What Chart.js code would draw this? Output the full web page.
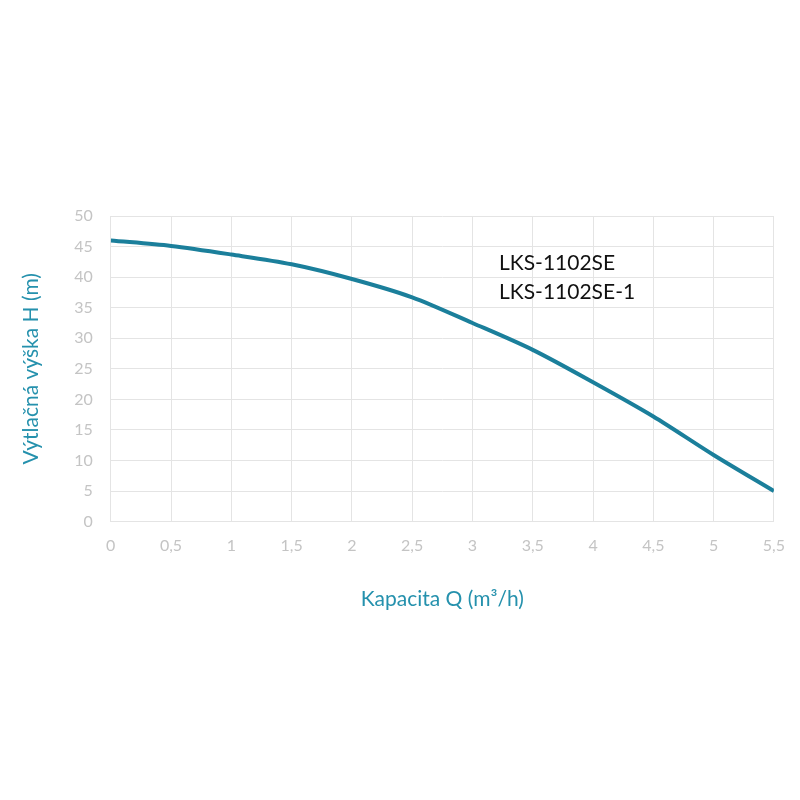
<!DOCTYPE html>
<html>
<head>
<meta charset="utf-8">
<script src="https://cdn.jsdelivr.net/npm/chart.js@4"></script>
<style>
  html, body { margin: 0; padding: 0; background: #fff; }
  #wrap { width: 800px; height: 800px; }
</style>
</head>
<body>
<div id="wrap"><canvas id="chart" width="800" height="800"></canvas></div>
<script>
// --- Data ---
const flowQ = [0, 0.5, 1, 1.5, 2, 2.5, 3, 3.5, 4, 4.5, 5, 5.5];
const headH = [46, 45.1, 43.7, 42.1, 39.7, 36.7, 32.5, 28.1, 22.8, 17.2, 10.9, 5];
const modelLabels = ['LKS-1102SE', 'LKS-1102SE-1'];
const labelAnchor = { x: 3.22, y: [42.2, 37.6] };

const TEAL = '#1b7f9b';
const TITLE_TEAL = '#2591ad';
const TICK_GREY = '#c4c4c4';
const GRID = '#e4e4e4';
const FONT = 'Lato, "Noto Sans", sans-serif';

// Model names written inside the plot
const modelText = {
  id: 'modelText',
  afterDatasetsDraw(chart) {
    const { ctx, scales } = chart;
    ctx.save();
    ctx.font = '21px ' + FONT;
    ctx.fillStyle = '#111';
    ctx.textAlign = 'left';
    ctx.textBaseline = 'middle';
    modelLabels.forEach((t, i) => {
      ctx.fillText(t, scales.x.getPixelForValue(labelAnchor.x), scales.y.getPixelForValue(labelAnchor.y[i]));
    });
    ctx.restore();
  }
};

new Chart(document.getElementById('chart').getContext('2d'), {
  type: 'line',
  data: {
    datasets: [{
      data: flowQ.map((q, i) => ({ x: q, y: headH[i] })),
      borderColor: TEAL,
      borderWidth: 4,
      pointRadius: 0,
      tension: 0.3,
      fill: false
    }]
  },
  options: {
    responsive: false,
    animation: false,
    layout: { padding: { top: 216, bottom: 184, left: 15, right: -4 } },
    plugins: { legend: { display: false }, tooltip: { enabled: false } },
    scales: {
      x: {
        type: 'linear',
        min: 0, max: 5.5,
        grid: { color: GRID, drawTicks: false },
        border: { color: GRID },
        ticks: {
          stepSize: 0.5,
          padding: 15,
          color: TICK_GREY,
          font: { family: FONT, size: 16 },
          callback: v => String(v).replace('.', ',')
        },
        title: {
          display: true,
          text: 'Kapacita Q (m³/h)',
          color: TITLE_TEAL,
          font: { family: FONT, size: 21 },
          padding: { top: 16 }
        }
      },
      y: {
        min: 0, max: 50,
        grid: { color: GRID, drawTicks: false },
        border: { color: GRID },
        ticks: {
          stepSize: 5,
          padding: 18,
          color: TICK_GREY,
          font: { family: FONT, size: 16 }
        },
        title: {
          display: true,
          text: 'Výtlačná výška H (m)',
          color: TITLE_TEAL,
          font: { family: FONT, size: 21 },
          padding: { bottom: 12 }
        }
      }
    }
  },
  plugins: [modelText]
});
</script>
</body>
</html>
